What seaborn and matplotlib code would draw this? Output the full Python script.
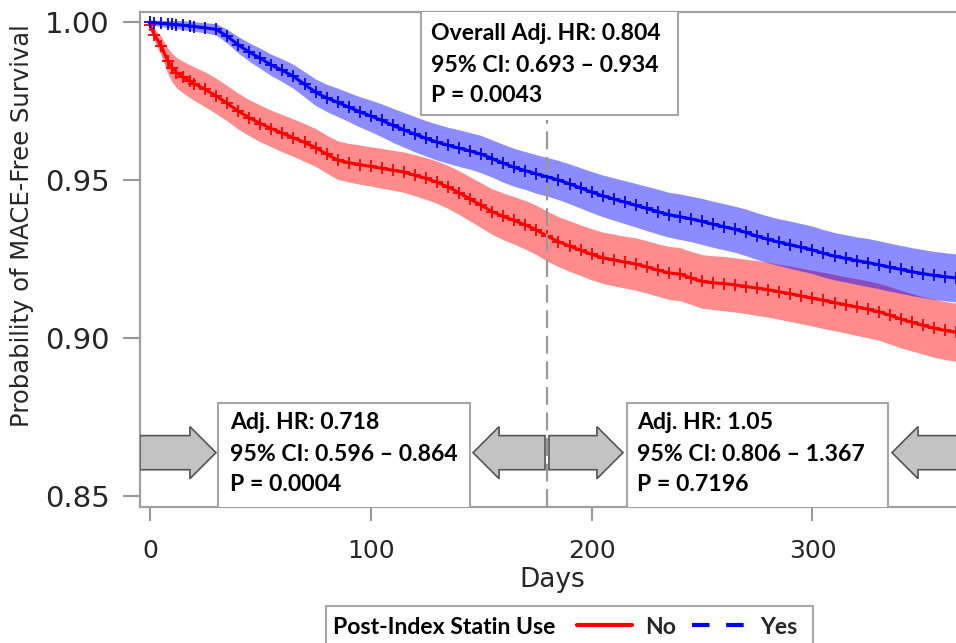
import numpy as np
import pandas as pd
import matplotlib
matplotlib.use('Agg')
import matplotlib.pyplot as plt
import seaborn as sns
from matplotlib.patches import Rectangle, FancyArrow
from matplotlib.lines import Line2D

# Kaplan-Meier estimates (days since index)
days = [0, 2, 5, 8, 10, 12, 15, 18] + list(range(20, 361, 5)) + [365]

surv_no = [0.9990, 0.9960, 0.9925, 0.9878, 0.9856, 0.9840, 0.9826, 0.9813,
           0.9805, 0.9787, 0.9766, 0.9743, 0.9718, 0.9697, 0.9679, 0.9663,
           0.9648, 0.9634, 0.9619, 0.9603, 0.9582, 0.9563, 0.9555, 0.9549,
           0.9543, 0.9537, 0.9531, 0.9525, 0.9515, 0.9505, 0.9493, 0.9478,
           0.9460, 0.9440, 0.9420, 0.9400, 0.9385, 0.9372, 0.9358, 0.9342,
           0.9322, 0.9305, 0.9291, 0.9278, 0.9265, 0.9254, 0.9247, 0.9240,
           0.9234, 0.9225, 0.9215, 0.9206, 0.9202, 0.9190, 0.9179, 0.9175,
           0.9172, 0.9168, 0.9163, 0.9158, 0.9153, 0.9146, 0.9140, 0.9133,
           0.9126, 0.9119, 0.9112, 0.9105, 0.9098, 0.9091, 0.9083, 0.9072,
           0.9060, 0.9050, 0.9040, 0.9031, 0.9024, 0.9018]

surv_yes = [1.0000, 0.9998, 0.9996, 0.9994, 0.9993, 0.9992, 0.9990, 0.9988,
            0.9986, 0.9982, 0.9977, 0.9955, 0.9928, 0.9905, 0.9885, 0.9864,
            0.9847, 0.9828, 0.9803, 0.9778, 0.9760, 0.9746, 0.9731, 0.9716,
            0.9703, 0.9689, 0.9673, 0.9659, 0.9645, 0.9632, 0.9620, 0.9610,
            0.9601, 0.9592, 0.9582, 0.9568, 0.9553, 0.9540, 0.9530, 0.9519,
            0.9510, 0.9500, 0.9488, 0.9475, 0.9462, 0.9450, 0.9440, 0.9430,
            0.9420, 0.9410, 0.9400, 0.9390, 0.9384, 0.9377, 0.9369, 0.9360,
            0.9352, 0.9344, 0.9334, 0.9322, 0.9312, 0.9303, 0.9295, 0.9287,
            0.9279, 0.9268, 0.9259, 0.9252, 0.9245, 0.9239, 0.9232, 0.9224,
            0.9217, 0.9210, 0.9204, 0.9198, 0.9194, 0.9190]

# half width of the 95% confidence band
ci_no = [0.0010, 0.0020, 0.0030, 0.0040, 0.0045, 0.0048, 0.0050, 0.0052,
         0.0053, 0.0055, 0.0056, 0.0056, 0.0057, 0.0057, 0.0058, 0.0058,
         0.0059, 0.0059, 0.0060, 0.0060, 0.0060, 0.0061, 0.0061, 0.0062,
         0.0062, 0.0063, 0.0063, 0.0064, 0.0065, 0.0066, 0.0067, 0.0068,
         0.0069, 0.0070, 0.0071, 0.0072, 0.0074, 0.0075, 0.0077, 0.0078,
         0.0079, 0.0079, 0.0080, 0.0080, 0.0081, 0.0081, 0.0082, 0.0082,
         0.0083, 0.0083, 0.0083, 0.0084, 0.0084, 0.0084, 0.0085, 0.0085,
         0.0086, 0.0086, 0.0086, 0.0087, 0.0087, 0.0087, 0.0088, 0.0088,
         0.0088, 0.0089, 0.0089, 0.0089, 0.0090, 0.0090, 0.0090, 0.0091,
         0.0091, 0.0091, 0.0091, 0.0092, 0.0092, 0.0092]

ci_yes = [0.0005, 0.0008, 0.0010, 0.0011, 0.0012, 0.0013, 0.0014, 0.0015,
          0.0015, 0.0016, 0.0018, 0.0022, 0.0026, 0.0029, 0.0032, 0.0034,
          0.0036, 0.0038, 0.0040, 0.0042, 0.0043, 0.0045, 0.0046, 0.0048,
          0.0050, 0.0052, 0.0054, 0.0055, 0.0056, 0.0056, 0.0057, 0.0057,
          0.0058, 0.0058, 0.0059, 0.0059, 0.0060, 0.0060, 0.0060, 0.0061,
          0.0061, 0.0062, 0.0063, 0.0064, 0.0065, 0.0066, 0.0067, 0.0068,
          0.0069, 0.0070, 0.0071, 0.0071, 0.0072, 0.0072, 0.0073, 0.0073,
          0.0073, 0.0073, 0.0074, 0.0074, 0.0074, 0.0074, 0.0075, 0.0075,
          0.0075, 0.0075, 0.0075, 0.0075, 0.0075, 0.0076, 0.0076, 0.0076,
          0.0076, 0.0076, 0.0076, 0.0076, 0.0076, 0.0076]

groups = ['No', 'Yes']
colors = {'No': 'red', 'Yes': 'blue'}
landmark_day = 180

box_overall = ['Overall Adj. HR: 0.804', '95% CI: 0.693 \u2013 0.934', 'P = 0.0043']
box_early = ['Adj. HR: 0.718', '95% CI: 0.596 \u2013 0.864', 'P = 0.0004']
box_late = ['Adj. HR: 1.05', '95% CI: 0.806 \u2013 1.367', 'P = 0.7196']

x_ticks = [0, 100, 200, 300]
y_ticks = [0.85, 0.90, 0.95, 1.00]

sns.set_style('white')
plt.rcParams['font.family'] = ['DejaVu Sans']

df = pd.DataFrame({
    'Days': days * 2,
    'surv': surv_no + surv_yes,
    'ci': ci_no + ci_yes,
    'group': ['No'] * len(days) + ['Yes'] * len(days),
})
df['lo'] = df['surv'] - df['ci']
df['hi'] = df['surv'] + df['ci']

fig = plt.figure(figsize=(9.56, 6.43), dpi=100)
ax = fig.add_axes([140 / 956, 1 - 507 / 643, 816 / 956, 495 / 643])

# confidence bands first, red underneath blue
for g in groups:
    d = df[df['group'] == g]
    ax.fill_between(d['Days'], d['lo'], d['hi'], color=colors[g], alpha=0.45,
                    lw=0, zorder=1)

for g in groups:
    d = df[df['group'] == g]
    sns.lineplot(x=d['Days'], y=d['surv'], color=colors[g], lw=2.2, marker='+',
                 markersize=9, mew=1.3, mec=colors[g], estimator=None,
                 sort=False, ax=ax, zorder=3)

ax.axvline(landmark_day, ymin=0, ymax=(507 - 120) / 495, color='#999999',
           lw=1.6, ls=(0, (8, 3.5)), zorder=4)

ax.set_xlim(-4.5, 365)
ax.set_ylim(0.8465, 1.0032)
ax.set_xticks(x_ticks)
ax.set_yticks(y_ticks)
ax.set_yticklabels([f'{v:.2f}' for v in y_ticks])
ax.tick_params(axis='x', labelsize=18, length=10, width=1.5, color='#999999',
               direction='out', pad=13)
ax.tick_params(axis='y', labelsize=21, length=12, width=1.5, color='#999999',
               direction='out', pad=10)
ax.tick_params(bottom=True, left=True)
for side in ['left', 'top', 'bottom']:
    ax.spines[side].set_color('#a0a0a0')
    ax.spines[side].set_linewidth(1.6)
ax.spines['right'].set_visible(False)

ax.set_xlabel('Days', fontsize=19)
ax.set_ylabel('Probability of MACE-Free Survival', fontsize=17.5)
ax.xaxis.set_label_coords(0.505, -0.122)
ax.yaxis.set_label_coords(-0.130, 0.568)

# annotation boxes
box_font = dict(family='Lato', weight='bold', size=16.6, color='black')
boxes = [
    (122.7, 0.9706, 116.4, 0.04, 127.3, [0.99652, 0.98639, 0.97690], box_overall),
    (30.8, 0.8400, 114.1, 0.0394, 36.2, [0.87310, 0.86297, 0.85348], box_early),
    (216.0, 0.8400, 118.2, 0.0394, 220.6, [0.87310, 0.86297, 0.85348], box_late),
]
for bx, by, bw, bh, tx, tys, lines in boxes:
    ax.add_patch(Rectangle((bx, by), bw, bh, facecolor='white',
                           edgecolor='#a6a6a6', lw=1.5, zorder=5))
    for ty, line in zip(tys, lines):
        ax.text(tx, ty, line, va='center', ha='left', zorder=6, **box_font)

# window arrows
arrow_y = 0.8637
arrows = [(-4.5, 34.4), (178.9, -32.6), (180.7, 33.5), (372.0, -36.0)]
for ax0, dx in arrows:
    ax.add_patch(FancyArrow(ax0, arrow_y, dx, 0, width=0.0108,
                            head_width=0.0165, head_length=11.8,
                            length_includes_head=True, facecolor='#c3c3c3',
                            edgecolor='#555555', lw=1.2, zorder=5))

# legend strip at the bottom
fig.patches.append(Rectangle((326 / 956, -0.01), 487 / 956, 37 / 643 + 0.01,
                             transform=fig.transFigure, facecolor='white',
                             edgecolor='#a6a6a6', lw=1.5))
fig.text(333 / 956, 1 - 627 / 643, 'Post-Index Statin Use', va='center',
         ha='left', **box_font)
handles = [Line2D([], [], color='red', lw=3),
           Line2D([], [], color='blue', lw=3, ls=(0, (4.2, 4)))]
fig.legend(handles, groups, loc='center left',
           bbox_to_anchor=(577 / 956, 1 - 627 / 643), ncol=2, frameon=False,
           handlelength=2.4, handletextpad=0.56, columnspacing=0.69,
           borderpad=0, borderaxespad=0,
           prop=dict(family='Lato', weight='bold', size=16.6))

fig.savefig('out.png', dpi=100)
